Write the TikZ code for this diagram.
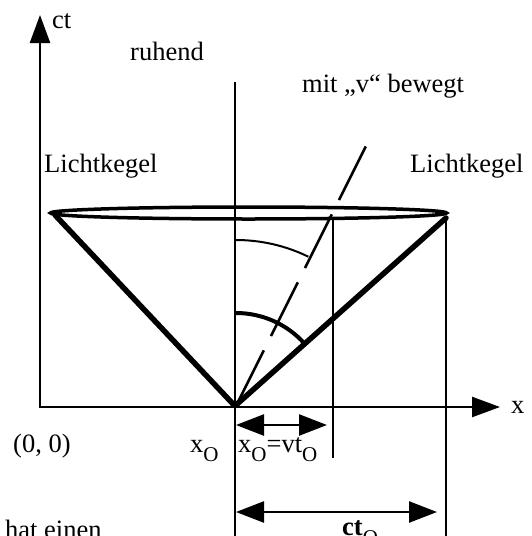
\documentclass[tikz,border=0pt]{standalone}
\usepackage{fontspec}
\setmainfont{Liberation Serif}
\usetikzlibrary{arrows.meta}
\newcommand\mysub[1]{\raisebox{-9pt}{\fontsize{21}{21}\selectfont #1}}
\begin{document}
\begin{tikzpicture}[x=1pt,y=-1pt,
  lbl/.style={anchor=base west,inner sep=0pt,font=\fontsize{26.5}{30}\selectfont},
  axis/.style={line width=2.5pt,-{Triangle[length=28pt,width=20pt]}},
  thinline/.style={line width=2pt},
  cone/.style={line width=5.5pt},
  rim/.style={line width=3.5pt},
  dimarrow/.style={line width=2.5pt,{Triangle[length=28pt,width=21pt]}-{Triangle[length=28pt,width=21pt]}},
  worldline/.style={line width=2.5pt,dash pattern=on 60pt off 16pt},
  thinarc/.style={line width=2pt},
  thickarc/.style={line width=4pt}]
\useasboundingbox (0,0) rectangle (531,536);
% coordinates
\coordinate (orig) at (40,407);
\coordinate (origx) at (38.75,407);
\coordinate (ytip) at (40,15);
\coordinate (xtip) at (500,407);
\coordinate (O) at (236,405);
\coordinate (L) at (55,215);
\coordinate (R) at (446,218);
\coordinate (v1top) at (235,82);
\coordinate (v1bot) at (235,540);
\coordinate (v2top) at (333,219);
\coordinate (v2bot) at (333,458);
\coordinate (v3top) at (446,218);
\coordinate (v3bot) at (446,540);
\coordinate (wl0) at (237,404);
\coordinate (wl1) at (366,146);
\coordinate (a1s) at (236,425);
\coordinate (a1e) at (327,425);
\coordinate (a2s) at (236,512);
\coordinate (a2e) at (437,512);
% axes
\draw[axis] (orig) -- (ytip);
\draw[axis] (origx) -- (xtip);
% vertical lines
\draw[thinline] (v1top) -- (v1bot);
\draw[thinline] (v2top) -- (v2bot);
\draw[thinline] (v3top) -- (v3bot);
% cone
\draw[rim] (248.5,213) ellipse [x radius=198, y radius=6];
\draw[cone,line cap=round] (L) -- (234,405);
\draw[cone,line cap=round] (O) -- (R);
% world line of moving observer
\draw[worldline] (wl0) -- (wl1);
% arcs
\draw[thinarc] (236,240) arc[start angle=-90, end angle=-64, radius=165];
\draw[thickarc] (236,313) arc[start angle=-90, end angle=-42, radius=92];
% dimension arrows
\draw[dimarrow] (a1s) -- (a1e);
\draw[dimarrow] (a2s) -- (a2e);
% labels
\node[lbl] (ct) at (52,28) {ct};
\node[lbl] (ruhend) at (130,60) {ruhend};
\node[lbl] (mit) at (302,92) {mit „v“ bewegt};
\node[lbl] (lkl) at (44,172) {Lichtkegel};
\node[lbl] (lkr) at (410,172) {Lichtkegel};
\node[lbl] (xl) at (511,413) {x};
\node[lbl] (null) at (13,452) {(0, 0)};
\node[lbl] (xo) at (190,452) {x\mysub{O}};
\node[lbl] (xovt) at (238,452) {x\mysub{O}=vt\mysub{O}};
\node[lbl] (cto) at (342,535) {\textbf{ct}\mysub{O}};
\node[lbl] (hat) at (5,538) {hat einen};
\end{tikzpicture}
\end{document}
